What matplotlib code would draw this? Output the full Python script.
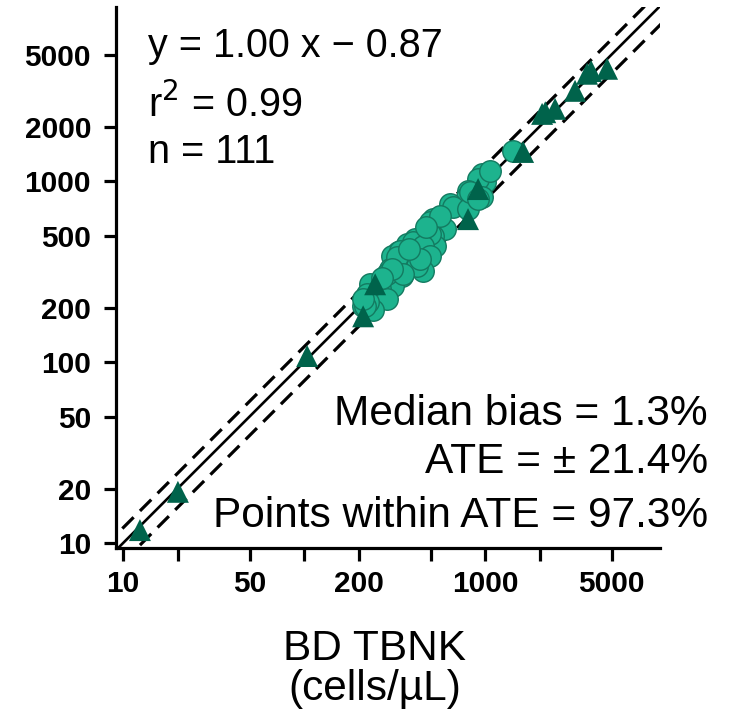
import numpy as np
import matplotlib.pyplot as plt
from matplotlib.ticker import FixedLocator, FixedFormatter, NullLocator

plt.rcParams["font.family"] = ["Liberation Sans", "DejaVu Sans"]

# comparator readings (x = BD TBNK, y = method under test), cells/uL
circle_x = [962, 1000, 915, 805, 962, 796, 641, 666, 805, 516, 601, 516, 449, 411,
            437, 530, 371, 352, 427, 497, 497, 400, 454, 497, 331, 361, 385, 306,
            454, 421, 299, 348, 310, 263, 232, 223, 288, 212, 240, 226, 1428, 1066,
            339, 326, 288, 352, 217, 212, 306, 826, 915, 437, 560, 470, 380, 270]
circle_y = [1094, 987, 1026, 881, 815, 815, 746, 718, 700, 616, 542, 496, 490, 477,
            431, 436, 448, 404, 384, 593, 509, 459, 436, 384, 404, 379, 361, 384,
            317, 338, 325, 298, 262, 252, 269, 237, 222, 203, 195, 214, 1466, 1136,
            409, 379, 305, 305, 203, 222, 325, 869, 795, 370, 640, 560, 420, 290]

tri_x = [915, 805, 247, 212, 104, 20.1, 12.4, 4720, 3660, 3850, 3140, 2435, 2065, 2150, 1622]
tri_y = [903, 616, 269, 179, 108, 19.2, 11.8, 4170, 3915, 4050, 3150, 2505, 2350, 2400, 1448]

ate = 0.214
ticks = [10, 20, 50, 100, 200, 500, 1000, 2000, 5000]
xticklabels = ["10", "", "50", "", "200", "", "1000", "", "5000"]
yticklabels = ["10", "20", "50", "100", "200", "500", "1000", "2000", "5000"]

fig = plt.figure(figsize=(7.33, 7.15), dpi=100)
ax = fig.add_axes([0.1583, 0.2336, 0.7421, 0.7566])

ax.set_xscale("log")
ax.set_yscale("log")
ax.set_xlim(9.15, 9250)
ax.set_ylim(9.4, 9150)

line = np.array([1, 20000])
ax.plot(line, line, color="black", lw=1.9, zorder=1)
ax.plot(line, line * (1 + ate), color="black", lw=2.3, ls=(0, (5, 2.8)), zorder=1)
ax.plot(line, line * (1 - ate), color="black", lw=2.3, ls=(0, (5, 2.8)), zorder=1)

ax.scatter(circle_x, circle_y, s=240, marker="o", color="#1db38e",
           edgecolor="#137a60", linewidth=1.0, zorder=2)
ax.scatter(tri_x, tri_y, s=250, marker="^", color="#00634b",
           edgecolor="none", zorder=3)

for s in ["top", "right"]:
    ax.spines[s].set_visible(False)
for s in ["left", "bottom"]:
    ax.spines[s].set_linewidth(2.3)

ax.xaxis.set_major_locator(FixedLocator(ticks))
ax.xaxis.set_major_formatter(FixedFormatter(xticklabels))
ax.yaxis.set_major_locator(FixedLocator(ticks))
ax.yaxis.set_major_formatter(FixedFormatter(yticklabels))
ax.xaxis.set_minor_locator(NullLocator())
ax.yaxis.set_minor_locator(NullLocator())
ax.tick_params(axis="both", length=9, width=2.3, labelsize=21.5)
ax.tick_params(axis="x", pad=7)
ax.tick_params(axis="y", pad=9)
for lab in ax.get_xticklabels() + ax.get_yticklabels():
    lab.set_fontweight("bold")

ax.text(0.058, 0.908, "y = 1.00 x \u2212 0.87", transform=ax.transAxes,
        fontsize=28.5, va="baseline")
ax.text(0.058, 0.797, "r$^2$ = 0.99", transform=ax.transAxes,
        fontsize=28.5, va="baseline")
ax.text(0.058, 0.712, "n = 111", transform=ax.transAxes,
        fontsize=28.5, va="baseline")

fig.text(0.966, 0.406, "Median bias = 1.3%", fontsize=30.5, ha="right", va="baseline")
fig.text(0.966, 0.338, "ATE = \u00b1 21.4%", fontsize=30.5, ha="right", va="baseline")
fig.text(0.966, 0.263, "Points within ATE = 97.3%", fontsize=30.5, ha="right", va="baseline")

fig.text(0.511, 0.077, "BD TBNK", fontsize=30.5, ha="center", va="baseline")
fig.text(0.511, 0.021, "(cells/\u00b5L)", fontsize=30.5, ha="center", va="baseline")

fig.savefig("out.png", dpi=100)
